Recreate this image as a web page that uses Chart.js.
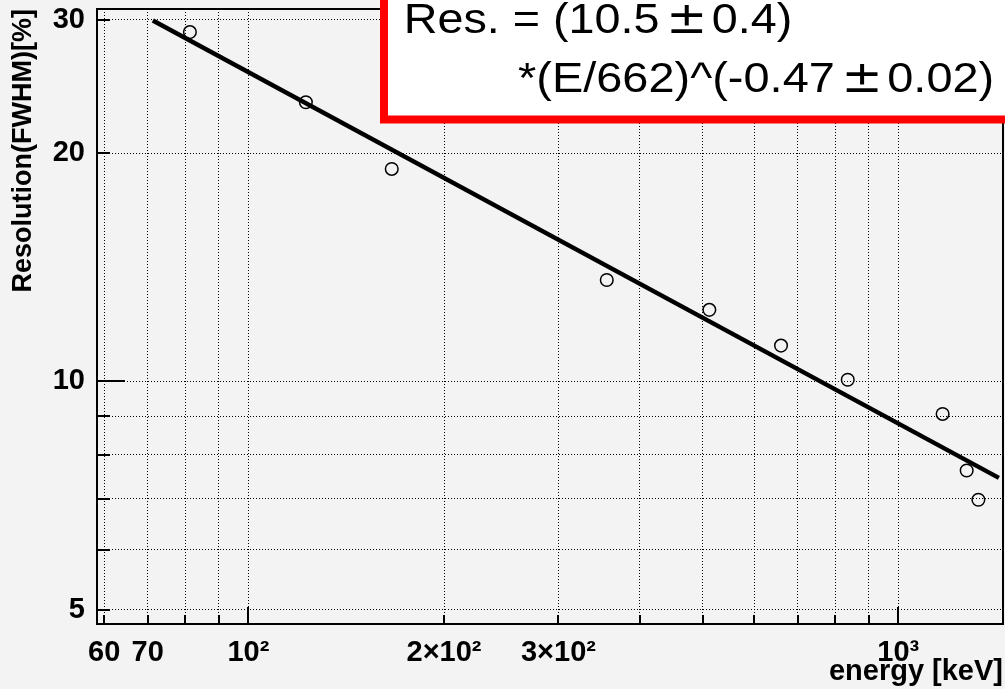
<!DOCTYPE html>
<html>
<head>
<meta charset="utf-8">
<script src="https://cdn.jsdelivr.net/npm/chart.js@4"></script>
<style>
html, body { margin: 0; padding: 0; background: #f3f3f3; }
canvas { display: block; }
</style>
</head>
<body>
<canvas id="c" width="1005" height="689"></canvas>
<script>
// ---- data ----
const energies = [81.3, 122.6, 166.2, 356, 512, 660, 836, 1170, 1274, 1328];
const resolutions = [28.9, 23.35, 19.07, 13.61, 12.43, 11.15, 10.05, 9.06, 7.63, 6.98];
const fitEnergies = [71.3, 1428];
const fitResolutions = [29.93, 7.46];

const xTickValues = [60, 70, 80, 90, 100, 200, 300, 400, 500, 600, 700, 800, 900, 1000];
const xTickLabels = ['60', '70', '', '', '10²', '2×10²', '3×10²', '', '', '', '', '', '', '10³'];
const xMajorTicks = [100, 1000];
const yTickValues = [5, 6, 7, 8, 9, 10, 20, 30];
const yTickLabels = ['5', '', '', '', '', '10', '20', '30'];
const yMajorTicks = [10];

const xRange = [58.5, 1449];
const yRange = [4.786, 31.0];

const xTitle = 'energy [keV]';
const yTitle = 'Resolution(FWHM)[%]';
// legend text, split where the ± sign is drawn in a symbol-like font
const legendLine1 = ['Res. = (10.5', '\u00B1', '0.4)'];
const legendLine2 = ['*(E/662)^(-0.47', '\u00B1', '0.02)'];

const FONT = '"Liberation Sans", Arial, Helvetica, sans-serif';
const TEXT_FONT = '42px ' + FONT;
const PM_FONT = '44px "DejaVu Sans", sans-serif';

function toPoints(xs, ys) { return xs.map((v, i) => ({ x: v, y: ys[i] })); }

// draws a line made of [text, ±, text] pieces, scaled so its ink spans the given width
function drawPieces(ctx, pieces, inkLeft, baseline, inkWidth) {
  const fonts = [TEXT_FONT, PM_FONT, TEXT_FONT];
  const gaps = [6, 4, 0];
  let x = 0;
  const pos = [];
  let lastRight = 0;
  pieces.forEach((t, i) => {
    ctx.font = fonts[i];
    const m = ctx.measureText(t);
    if (i === 0) { x = m.actualBoundingBoxLeft; }
    pos.push(x);
    lastRight = x + m.actualBoundingBoxRight;
    x += m.width + gaps[i];
  });
  const s = inkWidth / lastRight;
  ctx.save();
  ctx.translate(inkLeft, baseline);
  ctx.scale(s, 1);
  pieces.forEach((t, i) => {
    ctx.font = fonts[i];
    ctx.fillText(t, pos[i], 0);
  });
  ctx.restore();
}

const framePlugin = {
  id: 'framePlugin',
  afterDatasetsDraw(chart) {
    const { ctx, chartArea: a, scales: { x, y } } = chart;
    ctx.save();
    ctx.setLineDash([]);
    ctx.strokeStyle = '#000';
    ctx.lineWidth = 2;
    ctx.beginPath();
    xTickValues.forEach(v => {
      const px = Math.round(x.getPixelForValue(v));
      const len = xMajorTicks.includes(v) ? 17 : 9;
      ctx.moveTo(px, a.bottom);
      ctx.lineTo(px, a.bottom - len);
    });
    yTickValues.forEach(v => {
      const py = Math.round(y.getPixelForValue(v));
      const len = yMajorTicks.includes(v) ? 28 : 13;
      ctx.moveTo(a.left, py);
      ctx.lineTo(a.left + len, py);
    });
    ctx.stroke();
    ctx.strokeRect(a.left, a.top, a.right - a.left, a.bottom - a.top);
    ctx.restore();
  },
  afterDraw(chart) {
    const ctx = chart.ctx;
    ctx.save();
    ctx.fillStyle = '#ffffff';
    ctx.fillRect(384, -20, 700, 139.5);
    ctx.strokeStyle = '#ff0000';
    ctx.lineWidth = 8;
    ctx.strokeRect(384, -20, 700, 139.5);
    ctx.fillStyle = '#000';
    ctx.textAlign = 'left';
    ctx.textBaseline = 'alphabetic';
    drawPieces(ctx, legendLine1, 407, 33, 383);
    drawPieces(ctx, legendLine2, 518, 92, 474);
    ctx.restore();
  }
};

function zeroPad(s) { s.paddingTop = 0; s.paddingBottom = 0; s.paddingLeft = 0; s.paddingRight = 0; }

new Chart(document.getElementById('c'), {
  type: 'scatter',
  data: {
    datasets: [
      {
        data: toPoints(fitEnergies, fitResolutions),
        showLine: true,
        borderColor: '#000',
        borderWidth: 4.5,
        pointRadius: 0,
        tension: 0,
        fill: false
      },
      {
        data: toPoints(energies, resolutions),
        showLine: false,
        pointStyle: 'circle',
        pointRadius: 6.3,
        pointBorderWidth: 1.5,
        borderColor: '#000',
        backgroundColor: 'rgba(0,0,0,0)'
      }
    ]
  },
  options: {
    responsive: false,
    animation: false,
    events: [],
    layout: { autoPadding: false, padding: { left: 0, right: 2, top: 9, bottom: 0 } },
    plugins: { legend: { display: false }, tooltip: { enabled: false } },
    scales: {
      x: {
        type: 'logarithmic',
        position: 'bottom',
        min: xRange[0],
        max: xRange[1],
        afterBuildTicks: s => { s.ticks = xTickValues.map(v => ({ value: v })); },
        afterFit: s => { s.height = 65; zeroPad(s); },
        grid: { color: '#000', lineWidth: 1, drawTicks: false },
        border: { display: false, dash: [1, 2] },
        ticks: {
          autoSkip: false,
          maxRotation: 0,
          minRotation: 0,
          padding: 12,
          color: '#000',
          font: { family: FONT, size: 29, weight: 'bold' },
          callback: (v, i) => xTickLabels[i]
        },
        title: {
          display: true,
          text: xTitle,
          align: 'end',
          color: '#000',
          font: { family: FONT, size: 29, weight: 'bold' },
          padding: { top: 0, bottom: 0 }
        }
      },
      y: {
        type: 'logarithmic',
        position: 'left',
        min: yRange[0],
        max: yRange[1],
        afterBuildTicks: s => { s.ticks = yTickValues.map(v => ({ value: v })); },
        afterFit: s => { s.width = 97; zeroPad(s); },
        grid: { color: '#000', lineWidth: 1, drawTicks: false },
        border: { display: false, dash: [1, 2] },
        ticks: {
          autoSkip: false,
          padding: 12,
          color: '#000',
          font: { family: FONT, size: 29, weight: 'bold' },
          callback: (v, i) => yTickLabels[i]
        },
        title: {
          display: true,
          text: yTitle,
          align: 'end',
          color: '#000',
          font: { family: FONT, size: 27, weight: 'bold' },
          padding: { top: 7.5, bottom: 0 }
        }
      }
    }
  },
  plugins: [framePlugin]
});
</script>
</body>
</html>
